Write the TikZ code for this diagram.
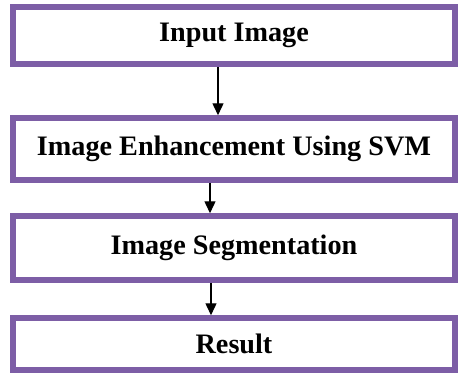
\documentclass[tikz,border=0pt]{standalone}
\usepackage{fontspec}
\setmainfont{Liberation Serif}
\usetikzlibrary{arrows.meta}
\definecolor{boxpurple}{RGB}{125,94,166}
\tikzset{stage/.style={draw=boxpurple,line width=5.5pt,fill=white,minimum width=442pt,
    inner sep=0pt,font=\fontsize{28.2}{31}\selectfont\bfseries},
  flow/.style={-{Triangle[width=11pt,length=12pt]},line width=1.4pt}}

\begin{document}
\begin{tikzpicture}[x=1pt,y=-1pt]
   \useasboundingbox (0,0) rectangle (458,373);

   \node[stage,minimum height=57pt] (input) at (234,35.5) {Input Image};
   \node[stage,minimum height=62pt] (enh) at (234,149) {Image Enhancement Using SVM};
   \node[stage,minimum height=64pt] (seg) at (234,248) {Image Segmentation};
   \node[stage,minimum height=52pt] (res) at (234,344) {Result};

   \draw[flow] ([xshift=-16pt]input.south) -- ([xshift=-16pt]enh.north);
   \draw[flow] ([xshift=-24pt]enh.south) -- ([xshift=-24pt]seg.north);
   \draw[flow] ([xshift=-23pt]seg.south) -- ([xshift=-23pt]res.north);

\end{tikzpicture}
\end{document}
